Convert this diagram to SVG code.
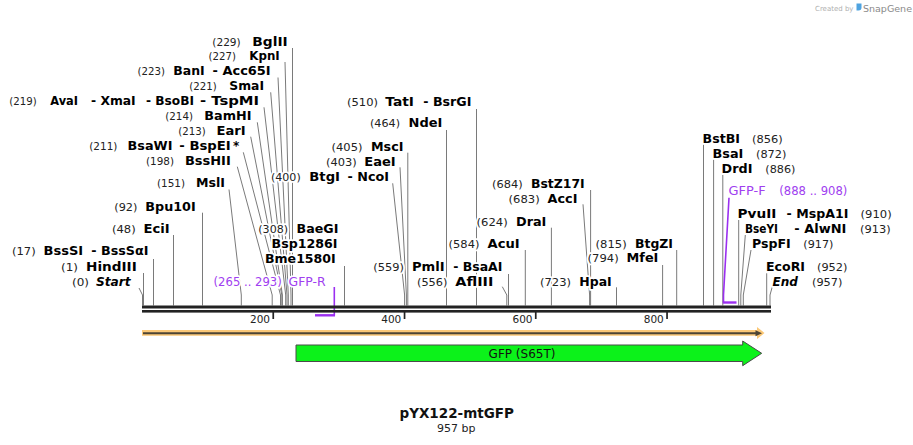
<svg xmlns="http://www.w3.org/2000/svg" width="913" height="445" viewBox="0 0 913 445">
<style>
text{font-family:"DejaVu Sans","Liberation Sans",sans-serif}
.n,.e,.ei,.p,.pn{stroke:#fff;stroke-width:3.5;stroke-linejoin:round;paint-order:stroke}
.n{font-size:10.5px;fill:#222}
.e{font-size:12px;font-weight:bold;fill:#000}
.ei{font-size:12px;font-weight:bold;font-style:italic;fill:#000}
.p{font-size:12px;fill:#a040f0}
.pn{font-size:11.4px;fill:#a040f0}
.ln{fill:none;stroke:#7a7a7a;stroke-width:1}
.pl{fill:none;stroke:#9b2ff0;stroke-width:1.6}
.pb{fill:none;stroke:#9b2ff0;stroke-width:2.4}
.tk{fill:#222}
.tl{font-size:10.5px;fill:#222;text-anchor:end}
</style>
<rect width="913" height="445" fill="#fff"/>

<g id="watermark">
<text x="815" y="11" style="font-size:7px;fill:#b0b0b0">Created by</text>
<path d="M856.5,3.5 h5 v4 q0,3 -3,3 h-2 z" fill="#4fa3e0"/>
<text x="863" y="12" style="font-size:9.5px;fill:#8a8a8a">SnapGene</text>
</g>

<g id="connectors">
<polyline class="ln" points="292.5,48 292.5,305.5"/>
<polyline class="ln" points="285,62 291,295 291,305.5"/>
<polyline class="ln" points="278,77.5 288.3,295 288.3,305.5"/>
<polyline class="ln" points="270.7,92.3 287,295 287,305.5"/>
<polyline class="ln" points="264,107.3 285.7,295 285.7,305.5"/>
<polyline class="ln" points="257.3,122.3 282.4,295 282.4,305.5"/>
<polyline class="ln" points="250.7,136.7 281.8,295 281.8,305.5"/>
<polyline class="ln" points="243.3,152.3 280.5,295 280.5,305.5"/>
<polyline class="ln" points="237.3,166.7 272.2,295 272.2,305.5"/>
<polyline class="ln" points="229,189.5 241.3,295 241.3,305.5"/>
<polyline class="ln" points="202.5,212.7 202.5,305.5"/>
<polyline class="ln" points="173.5,235 173.5,305.5"/>
<polyline class="ln" points="153.5,259 153.5,305.5"/>
<polyline class="ln" points="143.5,273 143.5,305.5"/>
<polyline class="ln" points="139,288 142.5,295 142.5,305.5"/>
<polyline class="ln" points="344.5,266 344.5,305.5"/>
<polyline class="ln" points="392.7,183.3 404.6,295 404.6,305.5"/>
<polyline class="ln" points="400,167.3 406.4,295 406.4,305.5"/>
<polyline class="ln" points="407.8,152.7 407.8,305.5"/>
<polyline class="ln" points="446.5,130 446.5,305.5"/>
<polyline class="ln" points="476.5,109 476.5,305.5"/>
<polyline class="ln" points="508.5,274 508.5,305.5"/>
<polyline class="ln" points="502.3,286.7 506.8,295 506.8,305.5"/>
<polyline class="ln" points="525.3,250 525.3,305.5"/>
<polyline class="ln" points="551.4,227.7 551.4,305.5"/>
<polyline class="ln" points="590.6,190 590.6,305.5"/>
<polyline class="ln" points="583,204.3 589.6,295 589.6,305.5"/>
<polyline class="ln" points="616.5,287.3 616.5,305.5"/>
<polyline class="ln" points="662.6,265 662.6,305.5"/>
<polyline class="ln" points="676.7,250 676.7,305.5"/>
<polyline class="ln" points="703.5,144.3 703.5,305.5"/>
<polyline class="ln" points="713.6,159.3 713.6,305.5"/>
<polyline class="ln" points="722.8,175 722.8,305.5"/>
<polyline class="ln" points="738.7,220 738.7,305.5"/>
<polyline class="ln" points="745.3,235 740.8,295 740.8,305.5"/>
<polyline class="ln" points="751,250 743.3,295 743.3,305.5"/>
<polyline class="ln" points="766.7,273.3 766.7,305.5"/>
<polyline class="ln" points="772.3,286.7 770,295 770,305.5"/>
<polyline class="pl" points="334.3,287 334.3,315.5"/>
<polyline class="pb" points="315,315.3 335,315.3"/>
<polyline class="pl" points="729,197.7 723.5,295 723.5,302.5"/>
<polyline class="pb" points="722.7,302.5 736.5,302.5"/>
</g>

<g id="backbone">
<rect x="142" y="305.5" width="629" height="3" fill="#222"/>
<rect x="142" y="310" width="629" height="2.6" fill="#222"/>
<rect class="tk" x="272.4" y="312" width="1.7" height="7"/>
<rect class="tk" x="403.7" y="312" width="1.7" height="7"/>
<rect class="tk" x="534.9" y="312" width="1.7" height="7"/>
<rect class="tk" x="666.2" y="312" width="1.7" height="7"/>
<text class="tl" x="270" y="322.5">200</text>
<text class="tl" x="401.3" y="322.5">400</text>
<text class="tl" x="532.5" y="322.5">600</text>
<text class="tl" x="663.8" y="322.5">800</text>
</g>

<g id="orf">
<path d="M142,330 H757 V327 L764.5,333 L757,339 V335.8 H142 Z" fill="#fbc877"/>
<path d="M143,333.3 H757" stroke="#4d4535" stroke-width="2" fill="none"/>
<path d="M755.5,330.3 L762,333.3 L755.5,336.3 Z" fill="#4d4535"/>
</g>

<g id="GFP_S65T">
<path d="M296,345 H742.7 V341 L761.7,353.3 L742.7,365.7 V361.5 H296 Z" fill="#0cf21a" stroke="#4a4a4a" stroke-width="1"/>
<text x="522" y="357.5" text-anchor="middle" style="font-size:12px;fill:#111">GFP (S65T)</text>
</g>

<g id="BglII"><text class="n" x="212.3" y="46" textLength="28.4" lengthAdjust="spacingAndGlyphs">(229)</text><text class="e" x="252.3" y="46" textLength="35.4" lengthAdjust="spacingAndGlyphs">BglII</text></g>
<g id="KpnI"><text class="n" x="208.6" y="60" textLength="27.4" lengthAdjust="spacingAndGlyphs">(227)</text><text class="e" x="249.3" y="60" textLength="30.4" lengthAdjust="spacingAndGlyphs">KpnI</text></g>
<g id="BanI"><text class="n" x="137.6" y="75" textLength="27.4" lengthAdjust="spacingAndGlyphs">(223)</text><text class="e" x="173.3" y="75" textLength="31.4" lengthAdjust="spacingAndGlyphs">BanI</text><text class="e" x="212.6" y="75" textLength="58.1" lengthAdjust="spacingAndGlyphs">- Acc65I</text></g>
<g id="SmaI"><text class="n" x="189.3" y="90" textLength="27.4" lengthAdjust="spacingAndGlyphs">(221)</text><text class="e" x="229.3" y="90" textLength="34.7" lengthAdjust="spacingAndGlyphs">SmaI</text></g>
<g id="AvaI"><text class="n" x="9.3" y="105" textLength="27.4" lengthAdjust="spacingAndGlyphs">(219)</text><text class="e" x="50.3" y="105" textLength="27.7" lengthAdjust="spacingAndGlyphs">AvaI</text><text class="e" x="91" y="105" textLength="44.7" lengthAdjust="spacingAndGlyphs">- XmaI</text><text class="e" x="146" y="105" textLength="48" lengthAdjust="spacingAndGlyphs">- BsoBI</text><text class="e" x="200" y="105" textLength="59" lengthAdjust="spacingAndGlyphs">- TspMI</text></g>
<g id="BamHI"><text class="n" x="165.3" y="120" textLength="27.7" lengthAdjust="spacingAndGlyphs">(214)</text><text class="e" x="204.3" y="120" textLength="47.1" lengthAdjust="spacingAndGlyphs">BamHI</text></g>
<g id="EarI"><text class="n" x="178.3" y="135" textLength="27.4" lengthAdjust="spacingAndGlyphs">(213)</text><text class="e" x="216.6" y="135" textLength="29.1" lengthAdjust="spacingAndGlyphs">EarI</text></g>
<g id="BsaWI"><text class="n" x="89.3" y="150" textLength="28.1" lengthAdjust="spacingAndGlyphs">(211)</text><text class="e" x="127.6" y="150" textLength="44.8" lengthAdjust="spacingAndGlyphs">BsaWI</text><text class="e" x="179.3" y="150" textLength="51.4" lengthAdjust="spacingAndGlyphs">- BspEI</text><text class="e" x="233" y="150">*</text></g>
<g id="BssHII"><text class="n" x="146" y="165" textLength="28" lengthAdjust="spacingAndGlyphs">(198)</text><text class="e" x="185" y="165" textLength="45.7" lengthAdjust="spacingAndGlyphs">BssHII</text></g>
<g id="BtgI"><text class="n" x="271" y="180.7" textLength="29.7" lengthAdjust="spacingAndGlyphs">(400)</text><text class="e" x="309.3" y="180.7" textLength="30.7" lengthAdjust="spacingAndGlyphs">BtgI</text><text class="e" x="347.6" y="180.7" textLength="41.4" lengthAdjust="spacingAndGlyphs">- NcoI</text></g>
<g id="MslI"><text class="n" x="157" y="187" textLength="28" lengthAdjust="spacingAndGlyphs">(151)</text><text class="e" x="196" y="187" textLength="29" lengthAdjust="spacingAndGlyphs">MslI</text></g>
<g id="Bpu10I"><text class="n" x="114.3" y="210.7" textLength="23.1" lengthAdjust="spacingAndGlyphs">(92)</text><text class="e" x="145.3" y="210.7" textLength="50.4" lengthAdjust="spacingAndGlyphs">Bpu10I</text></g>
<g id="EciI"><text class="n" x="112" y="232.7" textLength="23.7" lengthAdjust="spacingAndGlyphs">(48)</text><text class="e" x="143.6" y="232.7" textLength="26.1" lengthAdjust="spacingAndGlyphs">EciI</text></g>
<g id="BssSI"><text class="n" x="12" y="255" textLength="23.7" lengthAdjust="spacingAndGlyphs">(17)</text><text class="e" x="43.6" y="255" textLength="39.6" lengthAdjust="spacingAndGlyphs">BssSI</text><text class="e" x="91.3" y="255" textLength="57.1" lengthAdjust="spacingAndGlyphs">- BssSαI</text></g>
<g id="HindIII"><text class="n" x="61" y="270.7" textLength="17" lengthAdjust="spacingAndGlyphs">(1)</text><text class="e" x="86" y="270.7" textLength="50.7" lengthAdjust="spacingAndGlyphs">HindIII</text></g>
<g id="Start"><text class="n" x="72" y="286" textLength="17" lengthAdjust="spacingAndGlyphs">(0)</text><text class="ei" x="96" y="286" textLength="34.7" lengthAdjust="spacingAndGlyphs">Start</text></g>
<g id="BaeGI"><text class="n" x="258.3" y="232.7" textLength="29.7" lengthAdjust="spacingAndGlyphs">(308)</text><text class="e" x="296.6" y="232.7" textLength="41.8" lengthAdjust="spacingAndGlyphs">BaeGI</text><text class="e" x="271.6" y="247.7" textLength="65.8" lengthAdjust="spacingAndGlyphs">Bsp1286I</text><text class="e" x="265" y="262.7" textLength="70.7" lengthAdjust="spacingAndGlyphs">Bme1580I</text></g>
<g id="GFP-R"><text class="pn" x="213.6" y="286" textLength="68.1" lengthAdjust="spacingAndGlyphs">(265 .. 293)</text><text class="p" x="288.6" y="286" textLength="37.1" lengthAdjust="spacingAndGlyphs">GFP-R</text></g>
<g id="TatI"><text class="n" x="347" y="106" textLength="31" lengthAdjust="spacingAndGlyphs">(510)</text><text class="e" x="385.3" y="106" textLength="28.7" lengthAdjust="spacingAndGlyphs">TatI</text><text class="e" x="423.3" y="106" textLength="48.1" lengthAdjust="spacingAndGlyphs">- BsrGI</text></g>
<g id="NdeI"><text class="n" x="370" y="127.3" textLength="30" lengthAdjust="spacingAndGlyphs">(464)</text><text class="e" x="408.6" y="127.3" textLength="33.8" lengthAdjust="spacingAndGlyphs">NdeI</text></g>
<g id="MscI"><text class="n" x="331.6" y="150.7" textLength="30.8" lengthAdjust="spacingAndGlyphs">(405)</text><text class="e" x="371" y="150.7" textLength="32.4" lengthAdjust="spacingAndGlyphs">MscI</text></g>
<g id="EaeI"><text class="n" x="326" y="165.7" textLength="30.7" lengthAdjust="spacingAndGlyphs">(403)</text><text class="e" x="364.3" y="165.7" textLength="31.4" lengthAdjust="spacingAndGlyphs">EaeI</text></g>
<g id="PmlI"><text class="n" x="373.3" y="271" textLength="30.7" lengthAdjust="spacingAndGlyphs">(559)</text><text class="e" x="412" y="271" textLength="32.7" lengthAdjust="spacingAndGlyphs">PmlI</text><text class="e" x="453.3" y="271" textLength="49.1" lengthAdjust="spacingAndGlyphs">- BsaAI</text></g>
<g id="AflIII"><text class="n" x="417" y="286" textLength="30.4" lengthAdjust="spacingAndGlyphs">(556)</text><text class="e" x="455.3" y="286" textLength="38.1" lengthAdjust="spacingAndGlyphs">AflIII</text></g>
<g id="AcuI"><text class="n" x="448.6" y="248.3" textLength="30.8" lengthAdjust="spacingAndGlyphs">(584)</text><text class="e" x="487.6" y="248.3" textLength="32.1" lengthAdjust="spacingAndGlyphs">AcuI</text></g>
<g id="DraI"><text class="n" x="476.6" y="226" textLength="31.1" lengthAdjust="spacingAndGlyphs">(624)</text><text class="e" x="516" y="226" textLength="30.4" lengthAdjust="spacingAndGlyphs">DraI</text></g>
<g id="BstZ17I"><text class="n" x="492" y="188.3" textLength="30.7" lengthAdjust="spacingAndGlyphs">(684)</text><text class="e" x="531" y="188.3" textLength="53.7" lengthAdjust="spacingAndGlyphs">BstZ17I</text></g>
<g id="AccI"><text class="n" x="508.6" y="203.3" textLength="31.1" lengthAdjust="spacingAndGlyphs">(683)</text><text class="e" x="547.6" y="203.3" textLength="29.8" lengthAdjust="spacingAndGlyphs">AccI</text></g>
<g id="HpaI"><text class="n" x="540" y="286" textLength="31" lengthAdjust="spacingAndGlyphs">(723)</text><text class="e" x="579.3" y="286" textLength="32.4" lengthAdjust="spacingAndGlyphs">HpaI</text></g>
<g id="MfeI"><text class="n" x="587.6" y="262.3" textLength="31.1" lengthAdjust="spacingAndGlyphs">(794)</text><text class="e" x="626.6" y="262.3" textLength="31.8" lengthAdjust="spacingAndGlyphs">MfeI</text></g>
<g id="BtgZI"><text class="n" x="595.6" y="247.7" textLength="31.1" lengthAdjust="spacingAndGlyphs">(815)</text><text class="e" x="635" y="247.7" textLength="38" lengthAdjust="spacingAndGlyphs">BtgZI</text></g>
<g id="BstBI"><text class="e" x="702.6" y="142.7" textLength="37.4" lengthAdjust="spacingAndGlyphs">BstBI</text><text class="n" x="752" y="142.7" textLength="30.7" lengthAdjust="spacingAndGlyphs">(856)</text></g>
<g id="BsaI"><text class="e" x="712.6" y="157.7" textLength="30.8" lengthAdjust="spacingAndGlyphs">BsaI</text><text class="n" x="756" y="157.7" textLength="30.4" lengthAdjust="spacingAndGlyphs">(872)</text></g>
<g id="DrdI"><text class="e" x="721.6" y="172.7" textLength="30.8" lengthAdjust="spacingAndGlyphs">DrdI</text><text class="n" x="765.3" y="172.7" textLength="30.1" lengthAdjust="spacingAndGlyphs">(886)</text></g>
<g id="GFP-F"><text class="p" x="728.6" y="195.3" textLength="37.1" lengthAdjust="spacingAndGlyphs">GFP-F</text><text class="pn" x="779.3" y="195.3" textLength="68.1" lengthAdjust="spacingAndGlyphs">(888 .. 908)</text></g>
<g id="PvuII"><text class="e" x="737.6" y="217.7" textLength="38.8" lengthAdjust="spacingAndGlyphs">PvuII</text><text class="e" x="786.6" y="217.7" textLength="61.8" lengthAdjust="spacingAndGlyphs">- MspA1I</text><text class="n" x="860.6" y="217.7" textLength="31.1" lengthAdjust="spacingAndGlyphs">(910)</text></g>
<g id="BseYI"><text class="e" x="745" y="232.7" textLength="33" lengthAdjust="spacingAndGlyphs">BseYI</text><text class="e" x="794.3" y="232.7" textLength="52.1" lengthAdjust="spacingAndGlyphs">- AlwNI</text><text class="n" x="860" y="232.7" textLength="30.7" lengthAdjust="spacingAndGlyphs">(913)</text></g>
<g id="PspFI"><text class="e" x="752" y="247.7" textLength="38.7" lengthAdjust="spacingAndGlyphs">PspFI</text><text class="n" x="803.3" y="247.7" textLength="30.1" lengthAdjust="spacingAndGlyphs">(917)</text></g>
<g id="EcoRI"><text class="e" x="766" y="270.7" textLength="39" lengthAdjust="spacingAndGlyphs">EcoRI</text><text class="n" x="817" y="270.7" textLength="30.4" lengthAdjust="spacingAndGlyphs">(952)</text></g>
<g id="End"><text class="ei" x="772.6" y="285.7" textLength="25.4" lengthAdjust="spacingAndGlyphs">End</text><text class="n" x="812" y="285.7" textLength="30.4" lengthAdjust="spacingAndGlyphs">(957)</text></g>

<g id="title">
<text x="456.7" y="418.3" text-anchor="middle" style="font-size:13.5px;font-weight:bold;fill:#111">pYX122-mtGFP</text>
<text x="456.2" y="432.3" text-anchor="middle" style="font-size:11px;fill:#222">957 bp</text>
</g>
</svg>
